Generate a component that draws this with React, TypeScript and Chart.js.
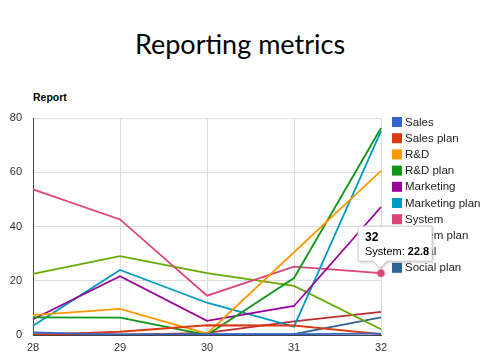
import React, { useEffect, useRef } from "react";
import { Chart, registerables } from "chart.js";

Chart.register(...registerables);

const categories = ["28", "29", "30", "31", "32"];
const seriesNames = ["Sales", "Sales plan", "R&D", "R&D plan", "Marketing", "Marketing plan", "System", "System plan", "Social", "Social plan"];
const seriesColors = ["#3366cc", "#dc3912", "#ff9900", "#109618", "#990099", "#0099c6", "#dd4477", "#66aa00", "#b82e2e", "#316395"];
const sales = [1.0, 0.1, 0.3, 0.3, 0.5];
const salesPlan = [0.0, 1.2, 3.6, 3.5, 0.3];
const rnd = [7.3, 9.6, 0.5, 30.5, 60.5];
const rndPlan = [6.5, 6.4, 0.0, 21.0, 76.3];
const marketing = [5.8, 21.7, 5.2, 10.7, 47.2];
const marketingPlan = [3.4, 24.0, 11.9, 3.1, 75.2];
const system = [53.7, 42.6, 14.5, 25.2, 22.8];
const systemPlan = [22.5, 29.1, 22.8, 18.1, 2.1];
const social = [0.0, 0.0, 0.8, 5.0, 8.5];
const socialPlan = [0.3, 0.2, 0.2, 0.3, 6.5];
const allSeries = [sales, salesPlan, rnd, rndPlan, marketing, marketingPlan, system, systemPlan, social, socialPlan];
const yTicks = [0, 20, 40, 60, 80];
const tooltipSeries = 6;
const tooltipIndex = 4;

const FONT = "'Liberation Sans', Arial, sans-serif";

export default function App() {
  const ref = useRef<HTMLCanvasElement>(null);
  useEffect(() => {
    if (!ref.current) return;
    const legendPlugin = {
      id: "customLegend",
      afterDraw(chart: any) {
        const ctx = chart.ctx;
        const x0 = chart.chartArea.right + 11;
        ctx.save();
        ctx.font = `11.5px ${FONT}`;
        ctx.textBaseline = "middle";
        seriesNames.forEach((name, i) => {
          const y = chart.chartArea.top - 1 + i * 16.2;
          ctx.fillStyle = seriesColors[i];
          ctx.fillRect(x0, y, 10, 10);
          ctx.fillStyle = "#222";
          ctx.fillText(name, x0 + 13, y + 5.5);
        });
        ctx.restore();
      },
    };
    const tooltipPlugin = {
      id: "customTooltip",
      afterDraw(chart: any) {
        const ctx = chart.ctx;
        const xs = chart.scales.x;
        const ys = chart.scales.y;
        const v = allSeries[tooltipSeries][tooltipIndex];
        const px = xs.getPixelForValue(tooltipIndex);
        const py = ys.getPixelForValue(v);
        ctx.save();
        ctx.beginPath();
        ctx.arc(px, py, 4.5, 0, Math.PI * 2);
        ctx.fillStyle = "rgba(221,68,119,0.35)";
        ctx.fill();
        ctx.beginPath();
        ctx.arc(px, py, 3.5, 0, Math.PI * 2);
        ctx.fillStyle = seriesColors[tooltipSeries];
        ctx.fill();
        const bx = px - 23;
        const by = py - 47;
        const bw = 74;
        const bh = 35;
        ctx.shadowColor = "rgba(0,0,0,0.25)";
        ctx.shadowBlur = 3;
        ctx.shadowOffsetX = 1;
        ctx.shadowOffsetY = 1;
        ctx.beginPath();
        ctx.moveTo(bx, by);
        ctx.lineTo(bx + bw, by);
        ctx.lineTo(bx + bw, by + bh);
        ctx.lineTo(px + 6, by + bh);
        ctx.lineTo(px - 1, by + bh + 7);
        ctx.lineTo(px - 8, by + bh);
        ctx.lineTo(bx, by + bh);
        ctx.closePath();
        ctx.fillStyle = "#fff";
        ctx.fill();
        ctx.shadowColor = "transparent";
        ctx.strokeStyle = "#ccc";
        ctx.lineWidth = 1;
        ctx.stroke();
        ctx.fillStyle = "#000";
        ctx.textBaseline = "alphabetic";
        ctx.font = `bold 12px ${FONT}`;
        ctx.fillText(categories[tooltipIndex], bx + 7, by + 15);
        ctx.font = `11px ${FONT}`;
        const lbl = seriesNames[tooltipSeries] + ": ";
        ctx.fillText(lbl, bx + 7, by + 29);
        const w = ctx.measureText(lbl).width;
        ctx.font = `bold 11px ${FONT}`;
        ctx.fillText(String(v), bx + 7 + w, by + 29);
        ctx.restore();
      },
    };
    const chart = new Chart(ref.current, {
      type: "line",
      data: {
        labels: categories,
        datasets: allSeries.map((d, i) => ({
          label: seriesNames[i],
          data: d,
          borderColor: seriesColors[i],
          backgroundColor: seriesColors[i],
          borderWidth: 1.8,
          pointRadius: 0,
          tension: 0,
          fill: false,
        })),
      },
      options: {
        responsive: false,
        animation: false,
        layout: { padding: { left: 0, top: 118, right: 99, bottom: 0 } },
        plugins: {
          legend: { display: false },
          tooltip: { enabled: false },
          title: { display: false },
        },
        scales: {
          x: {
            type: "category",
            offset: false,
            grid: { color: "#dddddd", drawTicks: false },
            border: { color: "#444", width: 1 },
            ticks: { color: "#333", font: { family: FONT, size: 11 }, padding: 6, maxRotation: 0 },
            afterFit: (s: any) => { s.height = 25; },
          },
          y: {
            min: 0,
            max: 80,
            afterBuildTicks: (s: any) => { s.ticks = yTicks.map((v) => ({ value: v })); },
            grid: { color: (c: any) => (c.tick && c.tick.value === 0 ? "#444" : "#dddddd"), drawTicks: false },
            border: { color: "#444", width: 1 },
            ticks: { color: "#333", font: { family: FONT, size: 11 }, padding: 11 },
            afterFit: (s: any) => { s.width = 33; },
          },
        },
      },
      plugins: [legendPlugin, tooltipPlugin],
    } as any);
    return () => chart.destroy();
  }, []);
  return (
    <div style={{ position: "absolute", left: 0, top: 0, width: 480, height: 360, background: "#fff" }}>
      <div style={{ position: "absolute", left: 0, top: 26, width: 480, textAlign: "center", fontFamily: "Lato, 'Open Sans', sans-serif", fontSize: 27, color: "#000", lineHeight: "36px" }}>
        Reporting metrics
      </div>
      <div style={{ position: "absolute", left: 33, top: 91, fontFamily: FONT, fontWeight: "bold", fontSize: 10.5, color: "#000" }}>
        Report
      </div>
      <canvas ref={ref} width={480} height={360} style={{ position: "absolute", left: 0, top: 0 }} />
    </div>
  );
}
